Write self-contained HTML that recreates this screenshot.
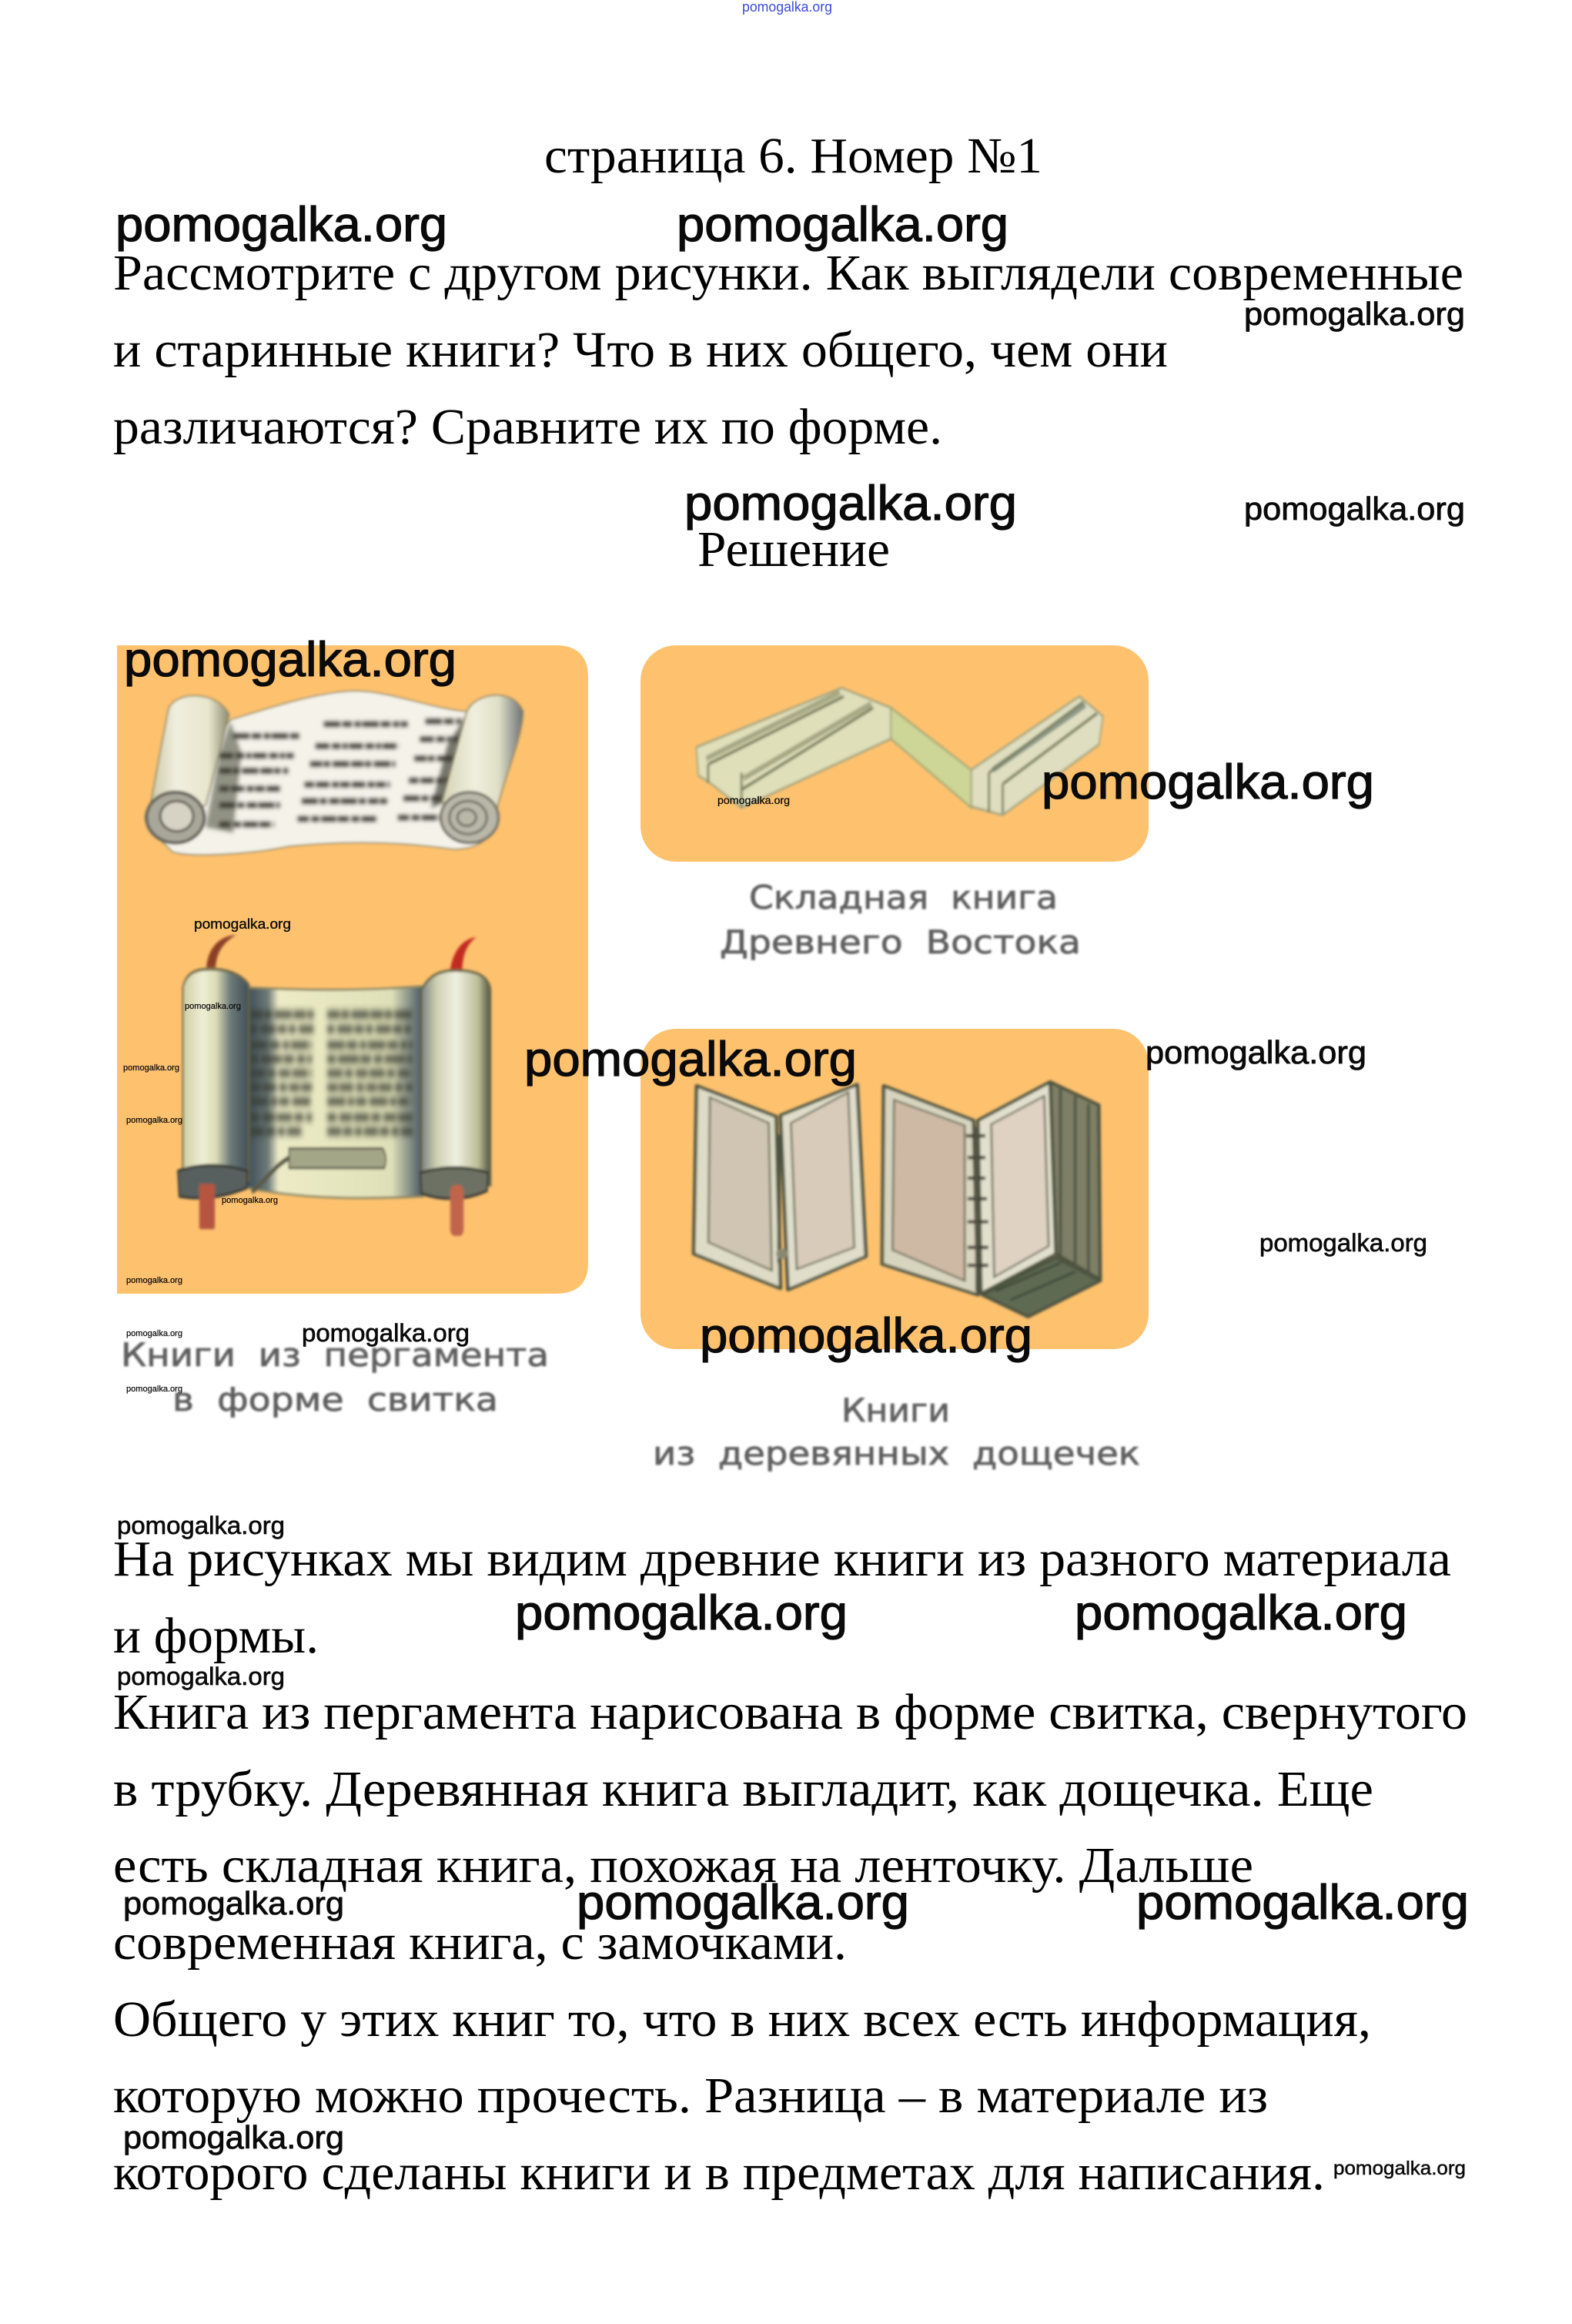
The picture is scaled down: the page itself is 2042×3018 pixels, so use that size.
<!DOCTYPE html>
<html lang="ru"><head><meta charset="utf-8"><title>страница 6. Номер №1</title>
<style>
html,body{margin:0;padding:0;background:#fff}
svg{display:block}
.t{font-family:"Liberation Serif",serif;font-size:66px;fill:#000}
.w{font-family:"Liberation Sans",sans-serif;fill:#0a0a0a;stroke:#0a0a0a;stroke-width:.02em}
.c{font-family:"DejaVu Sans",sans-serif;font-size:42px;fill:#5e5e5e;stroke:#5e5e5e;stroke-width:.8px;filter:url(#b1)}
</style></head><body>
<svg width="2042" height="3018" viewBox="0 0 2042 3018" xmlns="http://www.w3.org/2000/svg">
<defs>
<filter id="b1" x="-5%" y="-30%" width="110%" height="160%"><feGaussianBlur stdDeviation="1.2"/></filter>
<filter id="b2" x="-5%" y="-5%" width="110%" height="110%"><feGaussianBlur stdDeviation="1.6"/></filter>
<filter id="b3" x="-10%" y="-10%" width="120%" height="120%"><feGaussianBlur stdDeviation="6"/></filter>
<linearGradient id="r1" x1="0" x2="1" y1="0" y2="0"><stop offset="0" stop-color="#c9c6a4"/><stop offset=".35" stop-color="#f1efdf"/><stop offset=".75" stop-color="#e8e6cc"/><stop offset="1" stop-color="#8d8c72"/></linearGradient>
<linearGradient id="r2" x1="0" x2="1" y1="0" y2="0"><stop offset="0" stop-color="#d5d4b4"/><stop offset=".4" stop-color="#f0efdf"/><stop offset=".7" stop-color="#dfdfc6"/><stop offset="1" stop-color="#6e7276"/></linearGradient>
<linearGradient id="r3" x1="0" x2="1" y1="0" y2="0"><stop offset="0" stop-color="#cfcfa6"/><stop offset=".3" stop-color="#eeeed6"/><stop offset=".5" stop-color="#dcdcb6"/><stop offset=".72" stop-color="#6d7a78"/><stop offset="1" stop-color="#3f5058"/></linearGradient>
<linearGradient id="r4" x1="0" x2="1" y1="0" y2="0"><stop offset="0" stop-color="#7c8480"/><stop offset=".22" stop-color="#cfd0b2"/><stop offset=".5" stop-color="#f0f0e2"/><stop offset=".82" stop-color="#bcbd98"/><stop offset="1" stop-color="#50533f"/></linearGradient>
<linearGradient id="p2" x1="0" x2="1" y1="0" y2="0"><stop offset="0" stop-color="#3c4c58"/><stop offset=".12" stop-color="#6d7a78"/><stop offset=".18" stop-color="#ecebc6"/><stop offset=".82" stop-color="#dfe0b8"/><stop offset=".92" stop-color="#8a9488"/><stop offset="1" stop-color="#44525e"/></linearGradient>
</defs>
<rect width="2042" height="3018" fill="#fff"/>

<!-- orange panels -->
<path d="M152 838H722Q764 838 764 880V1640Q764 1680 722 1680H152Z" fill="#fec26f"/>
<rect x="832" y="838" width="660" height="281" rx="46" fill="#fec26f"/>
<rect x="832" y="1336" width="660" height="416" rx="46" fill="#fec26f"/>

<!-- scroll 1 -->
<g filter="url(#b2)"><g transform="translate(160,860) scale(.357)">
<path d="M390 210C520 170 700 110 830 105C960 100 1100 165 1250 180L1360 560C1340 640 1300 680 1200 680C1000 650 800 650 600 670C450 700 250 710 180 690L90 600Z" fill="#f4f2e9" stroke="#8f8a6c" stroke-width="5"/>
<g filter="url(#b3)"><path d="M390 215L350 330L300 600L400 620L430 330Z" fill="#6f7262" opacity=".75"/><path d="M1250 190L1170 510L1120 530L1180 300Z" fill="#55564c" opacity=".8"/></g>
<g fill="none" stroke="#37352f" stroke-width="20" filter="url(#b3)" opacity=".9">
<path d="M400 268H640M730 225H1035M1100 215H1230" stroke-dasharray="60 8 34 10 22 6"/>
<path d="M350 340H620M700 305H1005M1080 280H1220" stroke-dasharray="50 10 30 8 18 6"/>
<path d="M350 395H600M680 370H990M1060 350H1210" stroke-dasharray="44 6 22 10 60 8"/>
<path d="M350 460H580M660 445H970M1040 430H1190" stroke-dasharray="34 8 48 10 24 6"/>
<path d="M350 520H570M650 505H960M1020 495H1170" stroke-dasharray="58 8 24 10 36 6"/>
<path d="M350 590H550M635 570H920M1000 565H1150" stroke-dasharray="40 10 28 8 54 6"/>
</g>
<path d="M165 170C190 105 340 100 385 190L300 520L90 590C100 500 140 300 165 170Z" fill="url(#r1)" stroke="#8a8564" stroke-width="5"/>
<path d="M1250 180C1280 110 1420 90 1455 180C1450 280 1400 380 1360 530L1160 510Z" fill="url(#r2)" stroke="#8a8564" stroke-width="5"/>
<ellipse cx="190" cy="565" rx="105" ry="92" fill="#a9a79a" stroke="#66635c" stroke-width="12"/>
<ellipse cx="195" cy="560" rx="60" ry="55" fill="#d6d3c4" stroke="#66635c" stroke-width="9"/>
<ellipse cx="1260" cy="565" rx="105" ry="92" fill="#b9b7a8" stroke="#77746b" stroke-width="10"/>
<ellipse cx="1255" cy="565" rx="68" ry="60" fill="none" stroke="#77746b" stroke-width="9"/>
<ellipse cx="1250" cy="565" rx="34" ry="30" fill="none" stroke="#77746b" stroke-width="9"/>
</g></g>

<!-- scroll 2 -->
<g filter="url(#b2)"><g transform="translate(100,820) scale(.4591,.7337)">
<path d="M366 595C370 565 395 540 450 537C410 552 395 570 392 595Z" fill="#8b3f28"/>
<path d="M1056 598C1064 570 1085 545 1130 541C1100 555 1092 575 1090 598Z" fill="#c22a24"/>
<path d="M480 630C650 636 820 636 980 628L980 1000C800 1005 650 1005 480 985Z" fill="url(#p2)" stroke="#8b8562" stroke-width="4"/>
<g fill="none" stroke="#34382e" stroke-width="12" filter="url(#b3)" opacity=".95">
<path d="M490 678H670M708 678H950" stroke-dasharray="36 4 22 6 50 4"/>
<path d="M490 704H670M708 704H950" stroke-dasharray="20 8 44 5 26 6"/>
<path d="M490 732H665M708 732H950" stroke-dasharray="50 5 30 7 18 5"/>
<path d="M490 757H665M708 757H950" stroke-dasharray="24 6 60 4 30 8"/>
<path d="M490 782H665M708 782H950" stroke-dasharray="44 6 22 8 34 5"/>
<path d="M490 807H665M708 807H950" stroke-dasharray="30 4 40 8 22 6"/>
<path d="M490 832H665M708 832H950" stroke-dasharray="52 6 18 5 30 8"/>
<path d="M490 860H665M708 860H950" stroke-dasharray="26 8 36 5 44 6"/>
<path d="M490 885H640M708 885H950" stroke-dasharray="40 5 26 7 20 6"/>
</g>
<path d="M600 915H865Q880 930 870 950H600Z" fill="#a4a688" stroke="#5d5c48" stroke-width="4"/>
<path d="M600 932C560 945 530 975 495 992" stroke="#5a5a46" stroke-width="9" fill="none"/>
<path d="M300 630Q310 598 370 598Q450 596 486 625V972H300Z" fill="url(#r3)" stroke="#6b6644" stroke-width="5"/>
<path d="M975 635Q1000 600 1070 600Q1165 600 1170 635V980H975Z" fill="url(#r4)" stroke="#6b6644" stroke-width="5"/>
<path d="M286 955Q380 935 482 955L480 985Q380 1010 290 1000Z" fill="#58615e" stroke="#3b3b34" stroke-width="5"/>
<path d="M972 958Q1070 940 1163 958L1160 990Q1070 1015 975 995Z" fill="#6d7163" stroke="#3b3b34" stroke-width="5"/>
<rect x="346" y="978" width="44" height="80" rx="4" fill="#b5543f"/>
<rect x="1056" y="980" width="38" height="90" rx="12" fill="#c0654c"/>
</g></g>

<!-- folding book -->
<g filter="url(#b2)"><g transform="translate(800,820) scale(.5102,.7337)">
<path d="M205 205L575 100L700 135V190L320 312L240 268L210 255Z" fill="#dfdfba" stroke="#a3a27c" stroke-width="4"/>
<path d="M230 225L570 108M325 260L650 128" stroke="#a6a884" stroke-width="10" fill="none"/>
<path d="M235 235L580 115M320 280L655 135M235 235V268M320 250V310" stroke="#7d8262" stroke-width="6" fill="none"/>
<path d="M700 135L905 245V312L700 190Z" fill="#cdd597" stroke="#a8a874" stroke-width="4"/>
<path d="M905 245L1180 115L1240 150L1230 200L985 325L905 310Z" fill="#dfdec0" stroke="#a3a27c" stroke-width="4"/>
<path d="M960 245L1195 130" stroke="#8f9a8a" stroke-width="11" fill="none"/>
<path d="M950 250L1190 125M985 270L1225 145M950 250V320M985 270V322" stroke="#7d8262" stroke-width="6" fill="none"/>
</g></g>

<!-- wooden books -->
<g filter="url(#b2)"><g transform="translate(880,1380) scale(.3827,.3333)">
<g stroke="#4d5240" stroke-width="12" stroke-linejoin="round">
<path d="M65 90L335 210L350 880L55 745Z" fill="#dedcc6"/>
<path d="M350 205L610 85L640 755L375 885Z" fill="#e0decb"/>
<path d="M700 90L1005 225L1020 905L695 785Z" fill="#d8d5bf"/>
<path d="M1265 75L1430 165L1435 845L1285 745Z" fill="#7f7f66"/>
<path d="M1035 905L1285 760L1435 850L1190 990Z" fill="#5e6b52"/>
<path d="M1020 225L1265 75L1285 745L1030 900Z" fill="#e2e0cd"/>
</g>
<g stroke="#6c6c58" stroke-width="7">
<path d="M110 135L310 235L320 810L105 700Z" fill="#cfc5b2"/>
<path d="M385 235L580 115L600 720L405 805Z" fill="#d8cbb9"/>
<path d="M735 145L975 245L975 850L730 730Z" fill="#cdb9a4"/>
<path d="M1065 240L1245 130L1260 715L1075 835Z" fill="#dfd2c2"/>
</g>
<path d="M1300 100V760M1350 130V790M1395 160V820" stroke="#4f5645" stroke-width="10" fill="none"/>
<path d="M1080 890L1300 780M1130 925L1350 815" stroke="#3f4a3a" stroke-width="9" fill="none"/>
<path d="M345 280V780" stroke="#4d5240" stroke-width="12" fill="none"/>
<circle cx="355" cy="745" r="20" fill="#8a8772"/>
<path d="M980 285H1045M985 370H1045M985 450H1045M985 530H1050M985 620H1055M985 720H1055M985 790H1055" stroke="#3d3d30" stroke-width="13" fill="none"/>
<path d="M1015 250V890" stroke="#57574a" stroke-width="8" fill="none"/>
</g></g>

<!-- blurred captions -->
<text class="c" x="157" y="1774" textLength="556" lengthAdjust="spacingAndGlyphs" xml:space="preserve">Книги  из  пергамента</text>
<text class="c" x="224" y="1832" textLength="423" lengthAdjust="spacingAndGlyphs" xml:space="preserve">в  форме  свитка</text>
<text class="c" x="973" y="1180" textLength="401" lengthAdjust="spacingAndGlyphs" xml:space="preserve">Складная  книга</text>
<text class="c" x="935" y="1238" textLength="469" lengthAdjust="spacingAndGlyphs" xml:space="preserve">Древнего  Востока</text>
<text class="c" x="1093" y="1846" textLength="141" lengthAdjust="spacingAndGlyphs">Книги</text>
<text class="c" x="848" y="1902" textLength="633" lengthAdjust="spacingAndGlyphs" xml:space="preserve">из  деревянных  дощечек</text>

<!-- body text -->
<text class="t" x="707" y="224" textLength="647" lengthAdjust="spacingAndGlyphs">страница 6. Номер №1</text>
<text class="t" x="147" y="376" textLength="1754" lengthAdjust="spacingAndGlyphs">Рассмотрите с другом рисунки. Как выглядели современные</text>
<text class="t" x="147" y="476" textLength="1370" lengthAdjust="spacingAndGlyphs">и старинные книги? Что в них общего, чем они</text>
<text class="t" x="147" y="576" textLength="1077" lengthAdjust="spacingAndGlyphs">различаются? Сравните их по форме.</text>
<text class="t" x="906" y="735" textLength="250" lengthAdjust="spacingAndGlyphs">Решение</text>
<text class="t" x="147" y="2046" textLength="1738" lengthAdjust="spacingAndGlyphs">На рисунках мы видим древние книги из разного материала</text>
<text class="t" x="147" y="2146" textLength="267" lengthAdjust="spacingAndGlyphs">и формы.</text>
<text class="t" x="147" y="2245" textLength="1759" lengthAdjust="spacingAndGlyphs">Книга из пергамента нарисована в форме свитка, свернутого</text>
<text class="t" x="147" y="2345" textLength="1637" lengthAdjust="spacingAndGlyphs">в трубку. Деревянная книга выгладит, как дощечка. Еще</text>
<text class="t" x="147" y="2444" textLength="1481" lengthAdjust="spacingAndGlyphs">есть складная книга, похожая на ленточку. Дальше</text>
<text class="t" x="147" y="2544" textLength="953" lengthAdjust="spacingAndGlyphs">современная книга, с замочками.</text>
<text class="t" x="147" y="2644" textLength="1634" lengthAdjust="spacingAndGlyphs">Общего у этих книг то, что в них всех есть информация,</text>
<text class="t" x="147" y="2743" textLength="1500" lengthAdjust="spacingAndGlyphs">которую можно прочесть. Разница – в материале из</text>
<text class="t" x="147" y="2843" textLength="1574" lengthAdjust="spacingAndGlyphs">которого сделаны книги и в предметах для написания.</text>

<!-- watermarks -->
<g class="w" font-size="63">
<text x="150" y="313" textLength="431" lengthAdjust="spacingAndGlyphs">pomogalka.org</text>
<text x="879" y="313" textLength="431" lengthAdjust="spacingAndGlyphs">pomogalka.org</text>
<text x="889" y="675" textLength="432" lengthAdjust="spacingAndGlyphs">pomogalka.org</text>
<text x="161" y="878" textLength="432" lengthAdjust="spacingAndGlyphs">pomogalka.org</text>
<text x="1353" y="1037" textLength="432" lengthAdjust="spacingAndGlyphs">pomogalka.org</text>
<text x="681" y="1397" textLength="432" lengthAdjust="spacingAndGlyphs">pomogalka.org</text>
<text x="909" y="1756" textLength="432" lengthAdjust="spacingAndGlyphs">pomogalka.org</text>
<text x="669" y="2116" textLength="432" lengthAdjust="spacingAndGlyphs">pomogalka.org</text>
<text x="1396" y="2116" textLength="432" lengthAdjust="spacingAndGlyphs">pomogalka.org</text>
<text x="749" y="2492" textLength="432" lengthAdjust="spacingAndGlyphs">pomogalka.org</text>
<text x="1476" y="2492" textLength="432" lengthAdjust="spacingAndGlyphs">pomogalka.org</text>
</g>
<g class="w" font-size="42">
<text x="1616" y="422" textLength="287" lengthAdjust="spacingAndGlyphs">pomogalka.org</text>
<text x="1616" y="675" textLength="287" lengthAdjust="spacingAndGlyphs">pomogalka.org</text>
<text x="1488" y="1381" textLength="287" lengthAdjust="spacingAndGlyphs">pomogalka.org</text>
<text x="160" y="2486" textLength="287" lengthAdjust="spacingAndGlyphs">pomogalka.org</text>
<text x="160" y="2790" textLength="287" lengthAdjust="spacingAndGlyphs">pomogalka.org</text>
</g>
<g class="w" font-size="32">
<text x="1636" y="1625" textLength="218" lengthAdjust="spacingAndGlyphs">pomogalka.org</text>
<text x="152" y="1992" textLength="218" lengthAdjust="spacingAndGlyphs">pomogalka.org</text>
<text x="152" y="2188" textLength="218" lengthAdjust="spacingAndGlyphs">pomogalka.org</text>
<text x="392" y="1742" textLength="218" lengthAdjust="spacingAndGlyphs">pomogalka.org</text>
</g>
<text class="w" font-size="25" x="1732" y="2824" textLength="172" lengthAdjust="spacingAndGlyphs">pomogalka.org</text>
<text class="w" font-size="18.5" x="252" y="1206" textLength="126" lengthAdjust="spacingAndGlyphs">pomogalka.org</text>
<text class="w" font-size="14" x="932" y="1044" textLength="94" lengthAdjust="spacingAndGlyphs">pomogalka.org</text>
<g class="w" font-size="11">
<text x="240" y="1310" textLength="73" lengthAdjust="spacingAndGlyphs">pomogalka.org</text>
<text x="160" y="1390" textLength="73" lengthAdjust="spacingAndGlyphs">pomogalka.org</text>
<text x="164" y="1458" textLength="73" lengthAdjust="spacingAndGlyphs">pomogalka.org</text>
<text x="288" y="1562" textLength="73" lengthAdjust="spacingAndGlyphs">pomogalka.org</text>
<text x="164" y="1666" textLength="73" lengthAdjust="spacingAndGlyphs">pomogalka.org</text>
<text x="164" y="1735" textLength="73" lengthAdjust="spacingAndGlyphs">pomogalka.org</text>
<text x="164" y="1807" textLength="73" lengthAdjust="spacingAndGlyphs">pomogalka.org</text>
</g>
<text font-family="Liberation Sans, sans-serif" font-size="18" fill="#3a4bd8" x="964" y="15" textLength="117" lengthAdjust="spacingAndGlyphs">pomogalka.org</text>
</svg>
</body></html>
